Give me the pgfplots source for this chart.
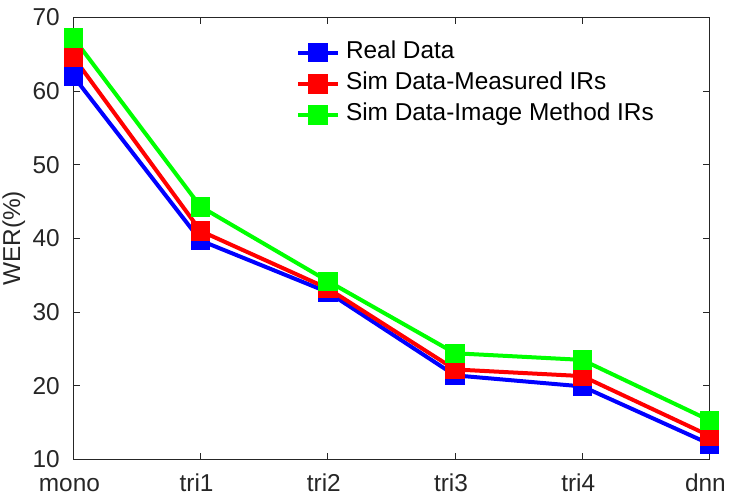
\documentclass[border=0pt]{standalone}
\usepackage{fontspec}
\setmainfont{Liberation Sans}
\usepackage{pgfplots}
\pgfplotsset{compat=1.18}
\definecolor{axgray}{RGB}{38,38,38}
\begin{document}
\begin{tikzpicture}[x=1pt,y=1pt]
\path[use as bounding box] (-55.05,-30.5) rectangle (492.45,344.5);
\begin{axis}[
  at={(0,0)}, anchor=south west,
  scale only axis,
  width=477pt, height=331.5pt,
  xmin=0, xmax=5, ymin=10, ymax=70,
  xtick={0,1,2,3,4,5},
  xticklabels={mono,tri1,tri2,tri3,tri4,dnn},
  ytick={10,20,30,40,50,60,70},
  tick align=inside,
  major tick length=5pt,
  axis line style={axgray, line width=0.6pt},
  tick style={axgray, line width=0.6pt},
  /pgf/number format/assume math mode=true,
  ticklabel style={font=\fontsize{18.3}{21}\selectfont, text=axgray},
  xticklabel style={anchor=base, yshift=-24pt, xshift=-3pt},
  yticklabel style={anchor=east, inner sep=0pt, xshift=-10pt},
  ylabel={WER(\%)},
  ylabel style={font=\fontsize{18.3}{21}\selectfont, text=axgray,
    at={(axis description cs:-0.0839,0.5)}, anchor=base, inner sep=0pt},
  legend style={draw=none, fill=none, inner sep=0pt, outer sep=0pt,
    at={(0.35,0.946)}, anchor=north west,
    font=\fontsize{18.3}{21}\selectfont, row sep=6.4pt, column sep=4.5pt,
    nodes={inner sep=0pt, text height=13pt, text depth=4pt},
    legend cell align=left},
  legend image code/.code={
    \draw[#1, mark repeat=2, mark phase=2] plot coordinates {(0pt,0pt) (15pt,0pt) (30pt,0pt)};
  },
]
\addplot[blue, line width=3pt, mark=square*, mark size=6.9pt, mark options={line width=0.5pt}]
  coordinates {(0,62.0) (1,39.7) (2,32.7) (3,21.4) (4,19.9) (5,12.1)};
\addlegendentry{Real Data}
\addplot[red, line width=3pt, mark=square*, mark size=6.9pt, mark options={line width=0.5pt}]
  coordinates {(0,64.6) (1,41.0) (2,33.2) (3,22.2) (4,21.3) (5,13.2)};
\addlegendentry{Sim Data-Measured IRs}
\addplot[green, line width=3pt, mark=square*, mark size=6.9pt, mark options={line width=0.5pt}]
  coordinates {(0,67.2) (1,44.3) (2,34.2) (3,24.4) (4,23.5) (5,15.3)};
\addlegendentry{Sim Data-Image Method IRs}
\end{axis}
\end{tikzpicture}
\end{document}
